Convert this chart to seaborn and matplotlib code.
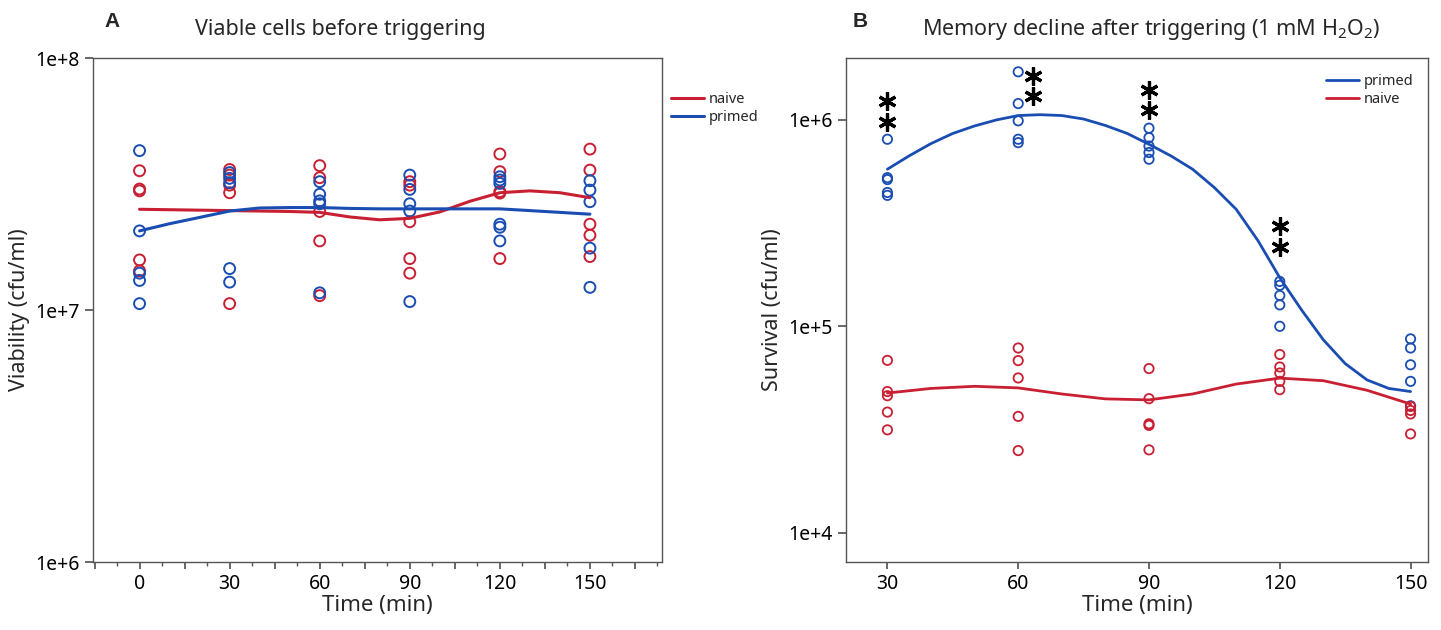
import matplotlib
matplotlib.use("Agg")
import matplotlib.pyplot as plt
import matplotlib.transforms as mtransforms
from matplotlib.ticker import FixedLocator, FuncFormatter, NullLocator, MultipleLocator
import numpy as np
import pandas as pd
import seaborn as sns

# ---- Panel A: viable cells before triggering (cfu/ml) ----
a_times = [0, 30, 60, 90, 120, 150]
a_naive = [[3.57e7, 3.02e7, 2.97e7, 1.58e7, 1.43e7],
           [3.61e7, 3.43e7, 3.13e7, 2.92e7, 1.06e7],
           [3.74e7, 3.35e7, 2.46e7, 1.88e7, 1.14e7],
           [3.23e7, 3.13e7, 2.24e7, 1.60e7, 1.40e7],
           [4.16e7, 3.54e7, 2.95e7, 2.91e7, 1.60e7],
           [4.35e7, 3.59e7, 2.19e7, 1.98e7, 1.63e7]]
a_primed = [[4.29e7, 2.06e7, 1.40e7, 1.31e7, 1.06e7],
            [3.51e7, 3.33e7, 3.20e7, 1.46e7, 1.29e7],
            [3.23e7, 2.88e7, 2.71e7, 2.64e7, 1.17e7],
            [3.43e7, 3.01e7, 2.64e7, 2.47e7, 1.08e7],
            [3.38e7, 3.28e7, 3.18e7, 2.19e7, 2.13e7, 1.88e7],
            [3.26e7, 2.99e7, 2.69e7, 1.76e7, 1.23e7]]
# smoothed curves
a_curve_t = [0, 10, 20, 30, 40, 50, 60, 70, 80, 90, 100, 110, 120, 130, 140, 150]
a_curve_naive = [2.51e7, 2.50e7, 2.49e7, 2.48e7, 2.47e7, 2.46e7, 2.44e7, 2.34e7,
                 2.28e7, 2.31e7, 2.45e7, 2.70e7, 2.92e7, 2.97e7, 2.92e7, 2.79e7]
a_curve_primed = [2.06e7, 2.20e7, 2.33e7, 2.47e7, 2.54e7, 2.55e7, 2.55e7, 2.53e7,
                  2.52e7, 2.52e7, 2.52e7, 2.52e7, 2.52e7, 2.48e7, 2.44e7, 2.40e7]

# ---- Panel B: survival after 1 mM H2O2 (cfu/ml) ----
b_times = [30, 60, 90, 120, 150]
b_primed = [[8.06e5, 5.25e5, 5.14e5, 4.45e5, 4.31e5],
            [1.71e6, 1.20e6, 9.9e5, 8.06e5, 7.76e5],
            [9.12e5, 8.21e5, 7.47e5, 6.95e5, 6.45e5],
            [1.65e5, 1.58e5, 1.41e5, 1.27e5, 1.0e5],
            [8.69e4, 7.85e4, 6.51e4, 5.41e4, 4.12e4]]
b_naive = [[6.84e4, 4.83e4, 4.61e4, 3.84e4, 3.15e4],
           [7.85e4, 6.82e4, 5.62e4, 3.66e4, 2.50e4],
           [6.24e4, 4.46e4, 3.37e4, 3.31e4, 2.52e4],
           [7.3e4, 6.35e4, 5.94e4, 5.41e4, 4.93e4],
           [4.09e4, 3.91e4, 3.76e4, 3.01e4]]
b_curve_t = [30, 35, 40, 45, 50, 55, 60, 65, 70, 75, 80, 85, 90, 95, 100,
             105, 110, 115, 120, 125, 130, 135, 140, 145, 150]
b_curve_primed = [5.77e5, 6.7e5, 7.68e5, 8.6e5, 9.35e5, 1.0e6, 1.05e6, 1.06e6, 1.05e6,
                  1.01e6, 9.4e5, 8.6e5, 7.62e5, 6.7e5, 5.77e5, 4.7e5, 3.69e5, 2.6e5,
                  1.72e5, 1.2e5, 8.6e4, 6.6e4, 5.5e4, 5.0e4, 4.83e4]
b_curve_naive_t = [30, 40, 50, 60, 70, 80, 90, 100, 110, 120, 130, 140, 150]
b_curve_naive = [4.75e4, 5.0e4, 5.12e4, 5.03e4, 4.7e4, 4.45e4, 4.4e4, 4.7e4,
                 5.25e4, 5.61e4, 5.45e4, 4.9e4, 4.2e4]
# time points marked ** (primed vs naive)
b_signif = [30, 60, 90, 120]

RED = "#C91F32"
BLUE = "#1A4DB2"
GREY = "#555555"


def to_frame(times, groups):
    rows = []
    for t, vals in zip(times, groups):
        for v in vals:
            rows.append((t, v))
    return pd.DataFrame(rows, columns=["time", "value"])


sns.set_theme(style="ticks")
plt.rcParams["font.family"] = ["Noto Sans", "DejaVu Sans"]
plt.rcParams["mathtext.fontset"] = "custom"
plt.rcParams["mathtext.rm"] = "Noto Sans"
plt.rcParams["mathtext.it"] = "Noto Sans:italic"

fig = plt.figure(figsize=(14.41, 6.30), dpi=100)
axA = fig.add_axes([93 / 1441, 68 / 630, 569 / 1441, 504 / 630])
axB = fig.add_axes([846 / 1441, 68 / 630, 582 / 1441, 504 / 630])


def log_fmt(v, pos):
    return "1e+{}".format(int(round(np.log10(v))))


def style_axis(ax):
    ax.set_yscale("log")
    for s in ax.spines.values():
        s.set_color(GREY)
        s.set_linewidth(1.0)
    ax.tick_params(colors="black", labelsize=14, direction="out")
    ax.tick_params(which="both", color=GREY)
    ax.yaxis.set_minor_locator(NullLocator())
    ax.yaxis.set_major_formatter(FuncFormatter(log_fmt))
    ax.set_xlabel("Time (min)", fontsize=16, labelpad=1)


# Panel A
dfA_n = to_frame(a_times, a_naive)
dfA_p = to_frame(a_times, a_primed)
sns.scatterplot(data=dfA_n, x="time", y="value", ax=axA, s=62, facecolor="none",
                edgecolor=RED, linewidth=1.4, zorder=3)
sns.scatterplot(data=dfA_p, x="time", y="value", ax=axA, s=62, facecolor="none",
                edgecolor=BLUE, linewidth=1.4, zorder=3)
sns.lineplot(x=a_curve_t, y=a_curve_naive, ax=axA, color=RED, lw=2.2, label="naive", zorder=4)
sns.lineplot(x=a_curve_t, y=a_curve_primed, ax=axA, color=BLUE, lw=2.2, label="primed", zorder=4)
style_axis(axA)
axA.set_ylim(1e6, 1e8)
axA.set_xlim(-15.5, 174)
axA.yaxis.set_major_locator(FixedLocator([1e6, 1e7, 1e8]))
axA.xaxis.set_major_locator(MultipleLocator(15))
axA.xaxis.set_minor_locator(MultipleLocator(7.5))
axA.xaxis.set_major_formatter(FuncFormatter(lambda v, p: "{:g}".format(v) if v % 30 == 0 else ""))
axA.tick_params(axis="x", which="major", length=5)
axA.tick_params(axis="x", which="minor", length=3)
axA.set_ylabel("Viability (cfu/ml)", fontsize=15.5)
axA.legend(loc="upper left", bbox_to_anchor=(1.0, 0.95), frameon=False, fontsize=10.5,
           handlelength=2.3, borderaxespad=0.2, labelspacing=0.2, handletextpad=0.3)
axA.text(0.434, 1.056, "Viable cells before triggering", transform=axA.transAxes,
         ha="center", va="center", fontsize=15.5)
axA.text(0.033, 1.072, "A", transform=axA.transAxes, ha="center", va="center",
         fontsize=15, fontweight="bold", family=["Liberation Sans", "DejaVu Sans"])

# Panel B
dfB_p = to_frame(b_times, b_primed)
dfB_n = to_frame(b_times, b_naive)
sns.scatterplot(data=dfB_p, x="time", y="value", ax=axB, s=45, facecolor="none",
                edgecolor=BLUE, linewidth=1.3, zorder=3)
sns.scatterplot(data=dfB_n, x="time", y="value", ax=axB, s=45, facecolor="none",
                edgecolor=RED, linewidth=1.3, zorder=3)
sns.lineplot(x=b_curve_t, y=b_curve_primed, ax=axB, color=BLUE, lw=2.0, label="primed", zorder=4)
sns.lineplot(x=b_curve_naive_t, y=b_curve_naive, ax=axB, color=RED, lw=2.0, label="naive", zorder=4)
style_axis(axB)
axB.set_ylim(10 ** 3.858, 10 ** 6.30)
axB.set_xlim(20.5, 154)
axB.yaxis.set_major_locator(FixedLocator([1e4, 1e5, 1e6]))
axB.set_xticks(b_times)
axB.tick_params(axis="x", length=5)
axB.set_ylabel("Survival (cfu/ml)", fontsize=15.5)
axB.legend(loc="upper right", bbox_to_anchor=(0.99, 0.985), frameon=False, fontsize=10.5,
           handlelength=2.3, borderaxespad=0.2, labelspacing=0.2, handletextpad=0.3)
axB.text(0.524, 1.056, "Memory decline after triggering (1 mM H$_2$O$_2$)",
         transform=axB.transAxes, ha="center", va="center", fontsize=15.5)
axB.text(0.024, 1.072, "B", transform=axB.transAxes, ha="center", va="center",
         fontsize=15, fontweight="bold", family=["Liberation Sans", "DejaVu Sans"])

# significance stars above each group (offsets in pixels)
star_offsets = {30: (0, [17, 38]), 60: (15, [-4, -24]), 90: (0, [18, 38]), 120: (0, [34, 55])}
for t, vals in zip(b_times, b_primed):
    if t not in b_signif:
        continue
    dx, dys = star_offsets[t]
    for dy in dys:
        tr = mtransforms.offset_copy(axB.transData, fig=fig, x=dx, y=dy, units="dots")
        axB.plot([t], [max(vals)], transform=tr, marker=(6, 2, 0), markersize=13,
                 mew=2.3, color="black", clip_on=False, zorder=5)

fig.savefig("out.png", dpi=100)
